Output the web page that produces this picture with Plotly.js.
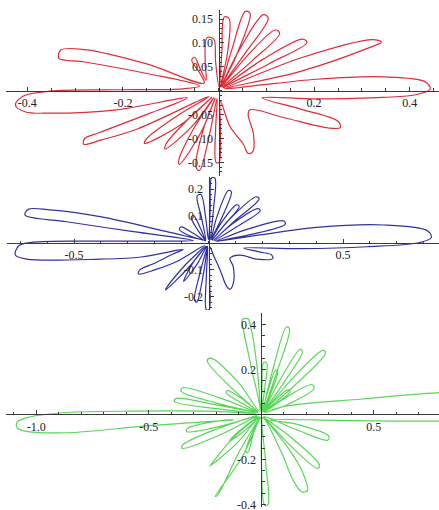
<!DOCTYPE html>
<html>
<head>
<meta charset="utf-8">
<script src="https://cdn.plot.ly/plotly-3.0.1.min.js"></script>
<style>
  html, body { margin: 0; padding: 0; background: #fff; }
  #plot { width: 439px; height: 510px; }
</style>
</head>
<body>
<div id="plot"></div>
<script>
// Traced outline of each rose curve, as [x, y] points in data units.
const redCurve = [
  [0.091,-0.015],[0.205,-0.017],[0.345,-0.014],[0.415,-0.008],[0.443,0.004],[0.432,0.019],[0.345,0.029],[0.205,0.024],[0.073,0.010],
  [0.012,0.004],
  [0.170,0.040],[0.310,0.088],[0.341,0.102],[0.322,0.107],[0.170,0.068],[0.010,0.006],
  [0.105,0.056],[0.185,0.101],[0.176,0.108],[0.092,0.065],[0.008,0.007],
  [0.072,0.064],[0.128,0.120],[0.119,0.127],[0.060,0.073],[0.006,0.008],
  [0.057,0.080],[0.104,0.152],[0.094,0.159],[0.045,0.088],[0.005,0.008],
  [0.040,0.080],[0.066,0.162],[0.056,0.166],[0.028,0.086],[0.004,0.008],
  [0.019,0.080],[0.022,0.151],[0.012,0.154],[0.007,0.082],[0.001,0.008],
  [-0.006,0.060],[-0.010,0.108],[-0.024,0.111],[-0.028,0.060],[-0.026,0.022],
  [-0.038,0.045],[-0.050,0.070],[-0.056,0.064],[-0.040,0.038],[-0.030,0.016],
  [-0.150,0.056],[-0.280,0.086],[-0.330,0.085],[-0.334,0.068],[-0.280,0.060],[-0.150,0.036],[-0.040,0.010],
  [-0.074,0.004],[-0.213,0.002],[-0.353,-0.001],[-0.410,-0.012],[-0.425,-0.030],[-0.405,-0.044],[-0.353,-0.047],[-0.213,-0.040],[-0.065,-0.015],
  [-0.143,-0.047],[-0.250,-0.088],[-0.280,-0.100],[-0.282,-0.112],[-0.245,-0.103],[-0.170,-0.080],[-0.020,-0.012],
  [-0.090,-0.055],[-0.150,-0.100],[-0.155,-0.110],[-0.080,-0.072],[-0.014,-0.014],
  [-0.066,-0.062],[-0.110,-0.112],[-0.112,-0.122],[-0.055,-0.074],[-0.010,-0.015],
  [-0.050,-0.076],[-0.083,-0.145],[-0.082,-0.154],[-0.036,-0.086],[-0.007,-0.016],
  [-0.032,-0.082],[-0.047,-0.160],[-0.040,-0.167],[-0.018,-0.088],[-0.003,-0.016],
  [-0.006,-0.080],[-0.005,-0.150],[0.001,-0.150],[0.004,-0.080],[0.004,-0.022],
  [0.024,-0.075],[0.052,-0.112],[0.062,-0.131],[0.072,-0.127],[0.073,-0.090],[0.062,-0.050],[0.066,-0.040],
  [0.136,-0.056],[0.230,-0.078],[0.255,-0.077],[0.250,-0.064],[0.170,-0.038],[0.091,-0.015]
];

const blueCurve = [
  [0.130,-0.019],[0.340,-0.021],[0.588,-0.014],[0.786,0.002],[0.828,0.020],[0.815,0.045],[0.650,0.067],[0.402,0.058],[0.191,0.030],[0.030,0.006],
  [0.150,0.030],[0.285,0.070],[0.280,0.082],[0.140,0.050],[0.025,0.008],
  [0.105,0.060],[0.192,0.120],[0.184,0.128],[0.090,0.072],[0.020,0.010],
  [0.095,0.080],[0.188,0.164],[0.178,0.172],[0.080,0.090],[0.015,0.012],
  [0.060,0.068],[0.114,0.136],[0.104,0.142],[0.048,0.076],[0.010,0.012],
  [0.050,0.095],[0.085,0.190],[0.074,0.195],[0.032,0.100],[0.008,0.012],
  [0.018,0.120],[0.024,0.240],[0.012,0.243],[0.006,0.120],[0.000,0.012],
  [-0.010,0.090],[-0.028,0.180],[-0.042,0.175],[-0.025,0.090],[-0.010,0.010],
  [-0.030,0.055],[-0.055,0.102],[-0.064,0.095],[-0.038,0.045],[-0.012,0.008],
  [-0.055,0.035],[-0.102,0.060],[-0.108,0.050],[-0.058,0.022],[-0.019,0.011],
  [-0.155,0.042],[-0.403,0.098],[-0.589,0.123],[-0.670,0.125],[-0.682,0.104],[-0.527,0.079],[-0.279,0.042],[-0.056,0.009],
  [-0.155,0.007],[-0.403,0.007],[-0.651,0.003],[-0.705,-0.010],[-0.718,-0.045],[-0.676,-0.060],[-0.403,-0.060],[-0.250,-0.052],[-0.094,-0.024],
  [-0.130,-0.040],[-0.200,-0.075],[-0.255,-0.100],[-0.260,-0.115],[-0.200,-0.100],[-0.120,-0.070],[-0.015,-0.010],
  [-0.085,-0.080],[-0.155,-0.165],[-0.160,-0.175],[-0.075,-0.092],[-0.010,-0.012],
  [-0.052,-0.065],[-0.090,-0.135],[-0.092,-0.143],[-0.040,-0.075],[-0.006,-0.012],
  [-0.030,-0.105],[-0.052,-0.212],[-0.044,-0.220],[-0.018,-0.110],[-0.003,-0.012],
  [-0.008,-0.125],[-0.008,-0.248],[0.002,-0.248],[0.004,-0.125],[0.006,-0.015],
  [0.018,-0.045],[0.043,-0.100],[0.068,-0.162],[0.080,-0.172],[0.092,-0.150],[0.092,-0.088],[0.080,-0.057],[0.117,-0.045],
  [0.180,-0.060],[0.238,-0.058],[0.235,-0.045],[0.190,-0.033],[0.130,-0.019]
];

const greenCurve = [
  [0.039,-0.025],[0.400,-0.028],[0.790,-0.030],[1.100,-0.020],[1.250,0.040],[1.100,0.110],[0.790,0.096],[0.450,0.068],[0.098,0.034],[0.020,0.008],
  [0.120,0.045],[0.235,0.115],[0.225,0.132],[0.110,0.075],[0.015,0.010],
  [0.070,0.050],[0.128,0.100],[0.120,0.110],[0.060,0.062],[0.012,0.012],
  [0.150,0.130],[0.285,0.272],[0.274,0.284],[0.130,0.150],[0.012,0.014],
  [0.100,0.140],[0.183,0.280],[0.172,0.288],[0.082,0.150],[0.010,0.014],
  [0.045,0.100],[0.073,0.192],[0.064,0.196],[0.030,0.105],[0.006,0.012],
  [0.070,0.190],[0.125,0.380],[0.112,0.388],[0.050,0.195],[0.004,0.012],
  [0.015,0.115],[0.024,0.228],[0.010,0.230],[0.003,0.115],[0.000,0.012],
  [-0.020,0.220],[-0.045,0.380],[-0.060,0.425],[-0.085,0.420],[-0.080,0.380],[-0.045,0.210],[-0.008,0.015],
  [-0.100,0.140],[-0.225,0.250],[-0.240,0.238],[-0.130,0.115],[-0.015,0.012],
  [-0.080,0.065],[-0.150,0.105],[-0.156,0.095],[-0.085,0.048],[-0.015,0.008],
  [-0.190,0.075],[-0.350,0.118],[-0.356,0.102],[-0.200,0.050],[-0.020,0.008],
  [-0.200,0.042],[-0.380,0.070],[-0.385,0.057],[-0.200,0.025],[-0.025,0.004],
  [-0.199,0.013],[-0.569,0.014],[-0.865,0.008],[-1.043,-0.015],[-1.085,-0.035],[-1.085,-0.060],[-1.050,-0.075],[-0.865,-0.082],[-0.495,-0.050],[-0.124,-0.025],
  [-0.180,-0.028],[-0.328,-0.063],[-0.332,-0.077],[-0.170,-0.050],[-0.020,-0.006],
  [-0.190,-0.062],[-0.350,-0.137],[-0.352,-0.151],[-0.180,-0.090],[-0.018,-0.008],
  [-0.075,-0.055],[-0.136,-0.110],[-0.140,-0.118],[-0.065,-0.065],[-0.010,-0.010],
  [-0.125,-0.105],[-0.222,-0.222],[-0.228,-0.230],[-0.105,-0.125],[-0.010,-0.012],
  [-0.100,-0.170],[-0.195,-0.360],[-0.205,-0.365],[-0.085,-0.190],[-0.006,-0.014],
  [-0.035,-0.085],[-0.060,-0.170],[-0.068,-0.165],[-0.040,-0.080],[-0.004,-0.014],
  [0.000,-0.200],[0.015,-0.405],[0.030,-0.400],[0.018,-0.200],[0.006,-0.015],
  [0.090,-0.170],[0.140,-0.290],[0.180,-0.345],[0.205,-0.338],[0.180,-0.250],[0.120,-0.150],[0.010,-0.012],
  [0.115,-0.125],[0.250,-0.240],[0.258,-0.225],[0.135,-0.105],[0.012,-0.010],
  [0.160,-0.070],[0.295,-0.115],[0.300,-0.098],[0.160,-0.045],[0.039,-0.025]
];

// Tick values and labels for each panel
const redXTicks = [-0.4, -0.2, 0.2, 0.4];
const redXLabels = ['-0.4', '-0.2', '0.2', '0.4'];
const redYTicks = [-0.15, -0.10, -0.05, 0.05, 0.10, 0.15];
const redYLabels = ['-0.15', '-0.10', '-0.05', '0.05', '0.10', '0.15'];

const blueXTicks = [-0.5, 0.5];
const blueXLabels = ['-0.5', '0.5'];
const blueYTicks = [-0.2, -0.1, 0.1, 0.2];
const blueYLabels = ['-0.2', '-0.1', '0.1', '0.2'];

const greenXTicks = [-1.0, -0.5, 0.5];
const greenXLabels = ['-1.0', '-0.5', '0.5'];
const greenYTicks = [-0.4, -0.2, 0.2, 0.4];
const greenYLabels = ['-0.4', '-0.2', '0.2', '0.4'];

// Page geometry (pixels): plot box, where the axes cross, and pixels per unit.
const W = 439, H = 510;
const panels = [
  { curve: redCurve, color: 'rgb(222,44,56)', box: [6, 439, 10, 176], origin: [218.5, 90.7], scale: 478,
    xt: redXTicks, xl: redXLabels, xMinor: 0.05, yt: redYTicks, yl: redYLabels, yMinor: 0.01 },
  { curve: blueCurve, color: 'rgb(48,48,165)', box: [7, 439, 177, 310], origin: [208.5, 243], scale: 269,
    xt: blueXTicks, xl: blueXLabels, xMinor: 0.1, yt: blueYTicks, yl: blueYLabels, yMinor: 0.02 },
  { curve: greenCurve, color: 'rgb(88,214,88)', box: [6, 439, 313, 507], origin: [261.3, 414.3], scale: 225,
    xt: greenXTicks, xl: greenXLabels, xMinor: 0.1, yt: greenYTicks, yl: greenYLabels, yMinor: 0.05 }
];

const tickFont = { family: 'Liberation Serif, Times New Roman, serif', size: 12, color: '#222' };
const axisColor = '#3a3a3a';

const traces = [];
const layout = {
  width: W, height: H,
  margin: { l: 0, r: 0, t: 0, b: 0 },
  paper_bgcolor: '#fff', plot_bgcolor: 'rgba(0,0,0,0)',
  showlegend: false
};

panels.forEach((p, i) => {
  const n = i === 0 ? '' : String(i + 1);
  const [left, right, top, bottom] = p.box;
  const [ox, oy] = p.origin;
  const s = p.scale;

  traces.push({
    type: 'scatter', mode: 'lines',
    x: p.curve.map(d => d[0]), y: p.curve.map(d => d[1]),
    xaxis: 'x' + n, yaxis: 'y' + n,
    line: { color: p.color, width: 1.2, shape: 'spline', smoothing: 1 },
    hoverinfo: 'skip'
  });

  layout['xaxis' + n] = {
    domain: [left / W, right / W],
    range: [(left - ox) / s, (right - ox) / s],
    anchor: 'free', position: 1 - oy / H,
    showline: true, linecolor: axisColor, linewidth: 1,
    zeroline: false, showgrid: false,
    ticks: 'inside', ticklen: 4, tickwidth: 1, tickcolor: axisColor,
    tickmode: 'array', tickvals: p.xt, ticktext: p.xl,
    minor: { tickmode: 'linear', tick0: 0, dtick: p.xMinor, ticks: 'inside', ticklen: 2.5, tickwidth: 1, tickcolor: axisColor, showgrid: false },
    tickfont: tickFont, ticklabelstandoff: 1, ticklabeloverflow: 'allow',
    automargin: false, fixedrange: true
  };
  layout['yaxis' + n] = {
    domain: [1 - bottom / H, 1 - top / H],
    range: [(oy - bottom) / s, (oy - top) / s],
    anchor: 'free', position: ox / W,
    showline: true, linecolor: axisColor, linewidth: 1,
    zeroline: false, showgrid: false,
    ticks: 'inside', ticklen: 4, tickwidth: 1, tickcolor: axisColor,
    tickmode: 'array', tickvals: p.yt, ticktext: p.yl,
    minor: { tickmode: 'linear', tick0: 0, dtick: p.yMinor, ticks: 'inside', ticklen: 2.5, tickwidth: 1, tickcolor: axisColor, showgrid: false },
    tickfont: tickFont, ticklabelstandoff: 3, ticklabeloverflow: 'allow',
    automargin: false, fixedrange: true
  };
});

Plotly.newPlot('plot', traces, layout, { displayModeBar: false, staticPlot: true });
</script>
</body>
</html>
